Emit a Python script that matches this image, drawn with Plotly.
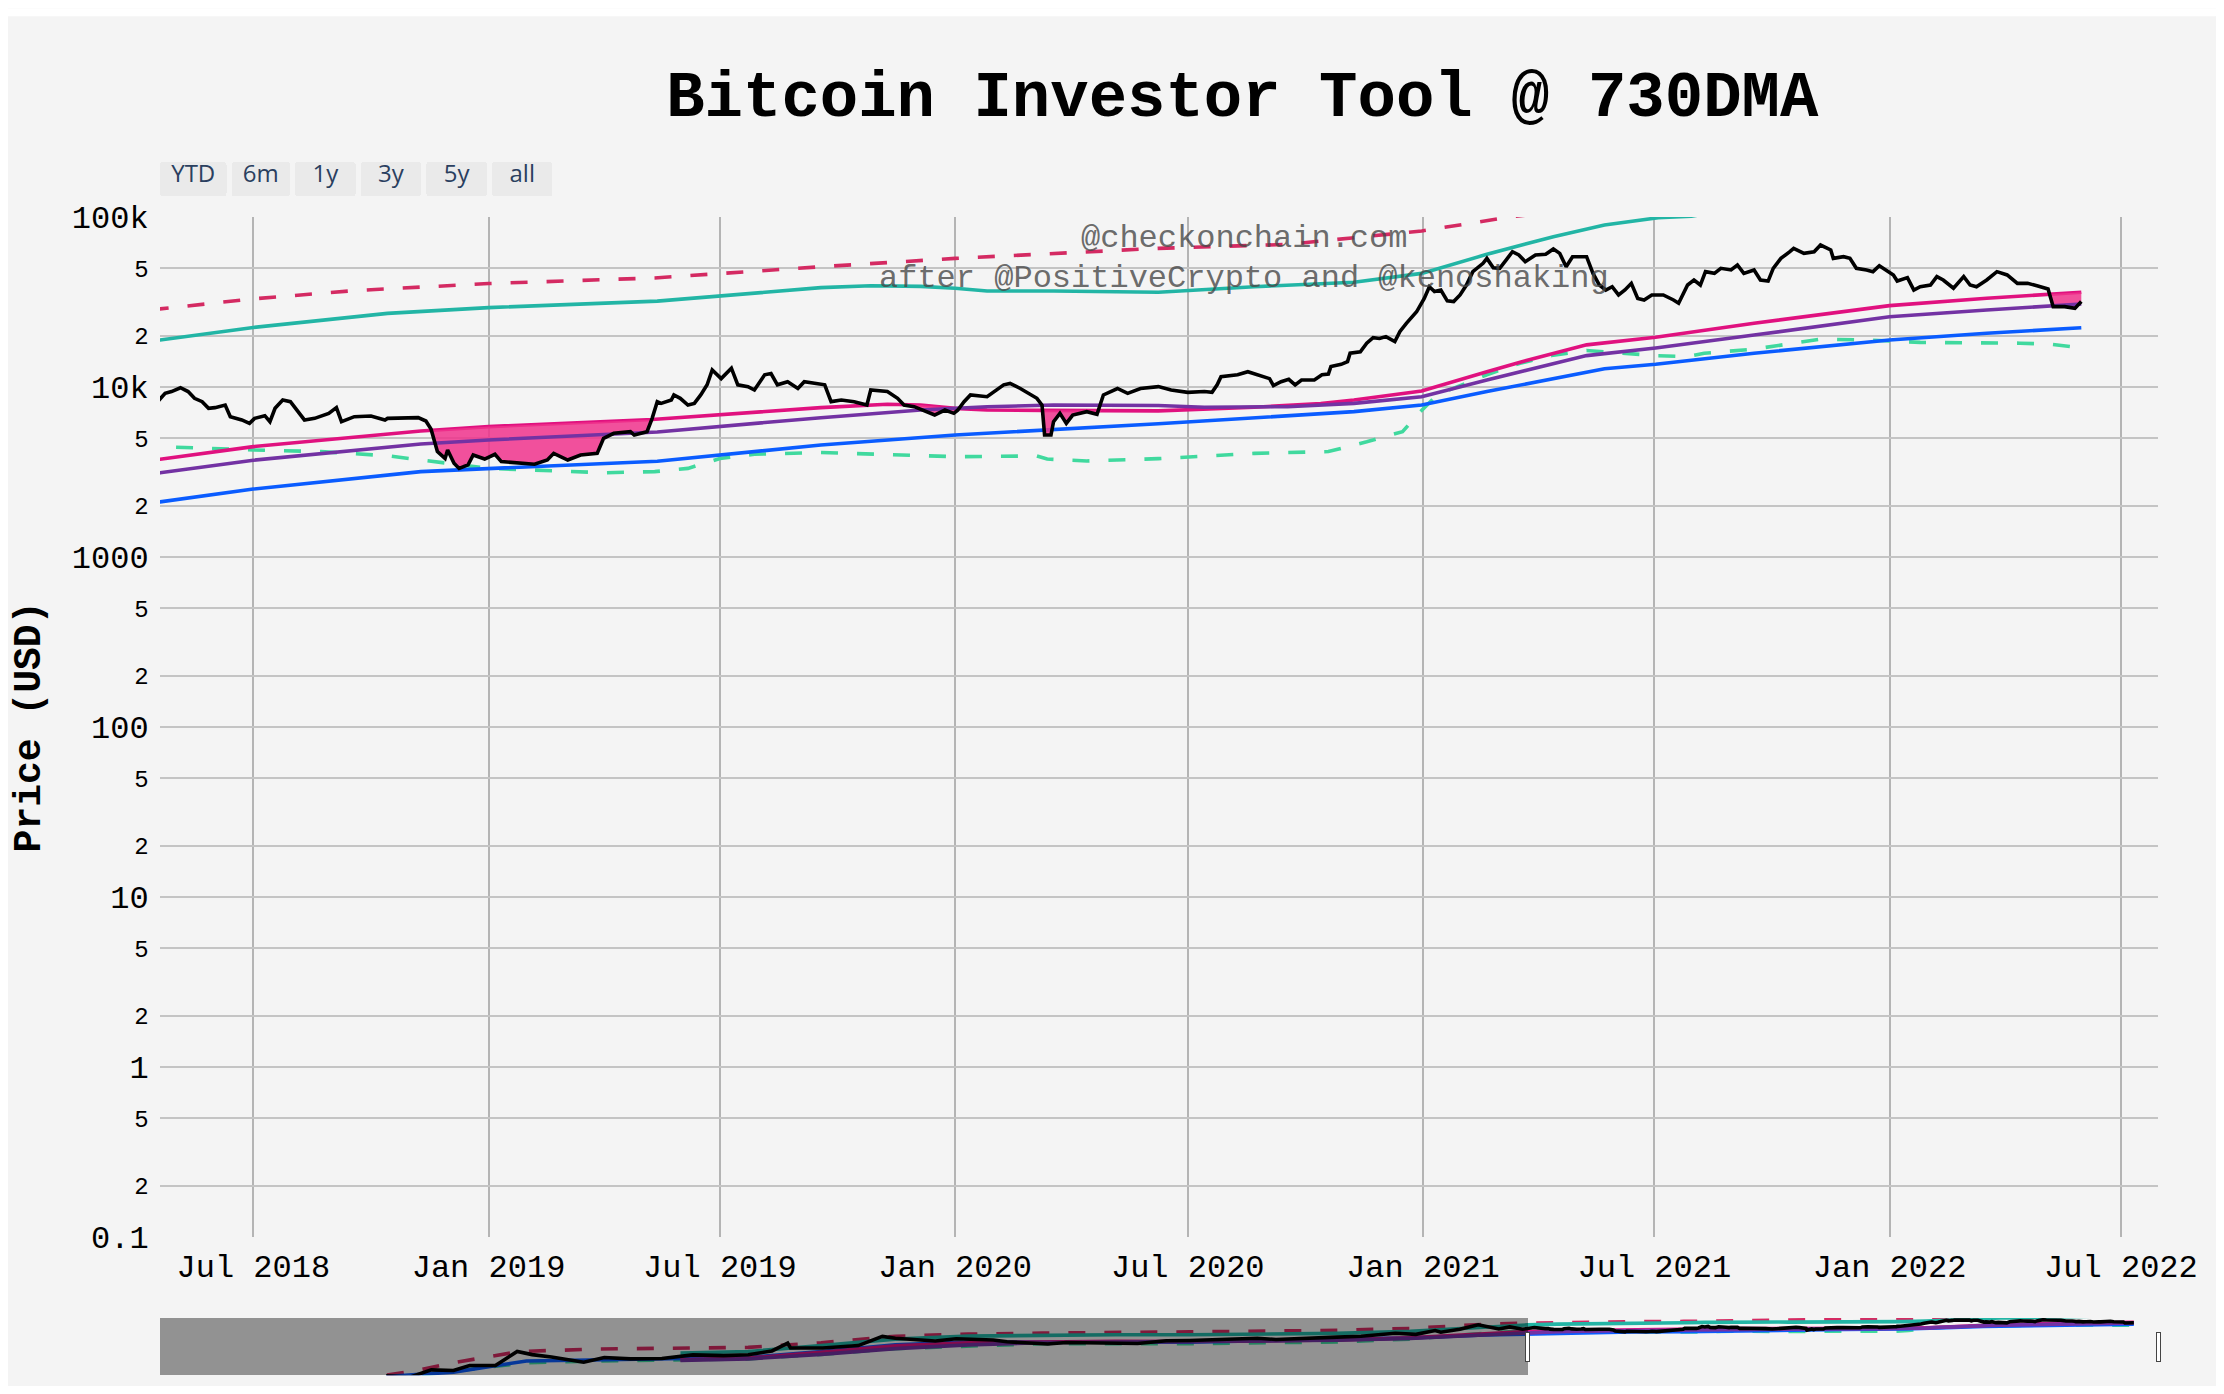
import plotly.graph_objects as go

# ---------------- data ----------------
price_dates = [
    "2009-01-03",
    "2010-07-18", "2010-09-15", "2010-11-07", "2011-01-01", "2011-02-10", "2011-04-15", "2011-06-08",
    "2011-07-15", "2011-09-01", "2011-11-20", "2012-01-10", "2012-03-15", "2012-06-01", "2012-08-17",
    "2012-11-01", "2013-01-01", "2013-03-01", "2013-04-09", "2013-04-16", "2013-07-05", "2013-10-01",
    "2013-11-30", "2014-01-01", "2014-02-25", "2014-04-10", "2014-06-01", "2014-09-01", "2014-10-05",
    "2015-01-14", "2015-03-01", "2015-07-01", "2015-08-25", "2015-11-04", "2016-01-01", "2016-06-17",
    "2016-08-02", "2016-12-31", "2017-03-01", "2017-05-25", "2017-07-15", "2017-09-01", "2017-09-15",
    "2017-11-01", "2017-12-17", "2018-02-06", "2018-03-05", "2018-04-06",
    "2018-04-19", "2018-04-23", "2018-04-28", "2018-05-05", "2018-05-11", "2018-05-16", "2018-05-22",
    "2018-05-27", "2018-06-01", "2018-06-09", "2018-06-13", "2018-06-22", "2018-06-28", "2018-07-02",
    "2018-07-10", "2018-07-14", "2018-07-18", "2018-07-24", "2018-07-30", "2018-08-05", "2018-08-10",
    "2018-08-18", "2018-08-29", "2018-09-04", "2018-09-08", "2018-09-18", "2018-10-01", "2018-10-12",
    "2018-10-14", "2018-11-07", "2018-11-13", "2018-11-17", "2018-11-22", "2018-11-28", "2018-11-30",
    "2018-12-05", "2018-12-09", "2018-12-16", "2018-12-20", "2018-12-29", "2019-01-06", "2019-01-11",
    "2019-01-27", "2019-02-06", "2019-02-16", "2019-02-21", "2019-03-04", "2019-03-14", "2019-03-27",
    "2019-04-01", "2019-04-09", "2019-04-22", "2019-04-25", "2019-05-05", "2019-05-09", "2019-05-13",
    "2019-05-16", "2019-05-24", "2019-05-26", "2019-05-31", "2019-06-06", "2019-06-11", "2019-06-16",
    "2019-06-21", "2019-06-25", "2019-07-02", "2019-07-10", "2019-07-15", "2019-07-23", "2019-07-28",
    "2019-08-05", "2019-08-10", "2019-08-15", "2019-08-23", "2019-08-31", "2019-09-05", "2019-09-21",
    "2019-09-26", "2019-10-04", "2019-10-14", "2019-10-24", "2019-10-27", "2019-11-09", "2019-11-17",
    "2019-11-22", "2019-11-30", "2019-12-16", "2019-12-24", "2019-12-31", "2020-01-03", "2020-01-08",
    "2020-01-13", "2020-01-26", "2020-02-08", "2020-02-13", "2020-02-21", "2020-03-05", "2020-03-09",
    "2020-03-11", "2020-03-16", "2020-03-18", "2020-03-23", "2020-03-28", "2020-04-02", "2020-04-13",
    "2020-04-21", "2020-04-26", "2020-05-07", "2020-05-15", "2020-05-25", "2020-06-08", "2020-06-18",
    "2020-07-01", "2020-07-14", "2020-07-20", "2020-07-24", "2020-07-27", "2020-08-09", "2020-08-17",
    "2020-08-27", "2020-09-03", "2020-09-06", "2020-09-12", "2020-09-18", "2020-09-23", "2020-09-28",
    "2020-10-08", "2020-10-14", "2020-10-19", "2020-10-21", "2020-10-29", "2020-11-03", "2020-11-05",
    "2020-11-13", "2020-11-18", "2020-11-23", "2020-11-28", "2020-12-03", "2020-12-10", "2020-12-14",
    "2020-12-19", "2020-12-27", "2021-01-02", "2021-01-06", "2021-01-10", "2021-01-15", "2021-01-20",
    "2021-01-25", "2021-01-30", "2021-02-04", "2021-02-09", "2021-02-17", "2021-02-20", "2021-02-25",
    "2021-03-02", "2021-03-07", "2021-03-12", "2021-03-17", "2021-03-22", "2021-03-30", "2021-04-07",
    "2021-04-13", "2021-04-18", "2021-04-23", "2021-04-28", "2021-05-09", "2021-05-14", "2021-05-19",
    "2021-05-24", "2021-05-29", "2021-06-03", "2021-06-08", "2021-06-13", "2021-06-18", "2021-06-23",
    "2021-06-29", "2021-07-08", "2021-07-16", "2021-07-20", "2021-07-27", "2021-08-01", "2021-08-06",
    "2021-08-10", "2021-08-17", "2021-08-22", "2021-08-30", "2021-09-04", "2021-09-09", "2021-09-17",
    "2021-09-22", "2021-09-28", "2021-10-02", "2021-10-08", "2021-10-15", "2021-10-18", "2021-10-26",
    "2021-11-03", "2021-11-08", "2021-11-16", "2021-11-18", "2021-11-26", "2021-12-01", "2021-12-06",
    "2021-12-14", "2021-12-19", "2021-12-24", "2021-12-29", "2022-01-04", "2022-01-07", "2022-01-15",
    "2022-01-20", "2022-01-25", "2022-02-02", "2022-02-07", "2022-02-12", "2022-02-20", "2022-02-28",
    "2022-03-05", "2022-03-10", "2022-03-18", "2022-03-26", "2022-04-03", "2022-04-11", "2022-04-19",
    "2022-04-27", "2022-05-05", "2022-05-09", "2022-05-18", "2022-05-26", "2022-05-31",
]
price_usd = [
    None,
    0.08, 0.06, 0.35, 0.3, 1.0, 1.0, 30,
    14, 8, 2.2, 7, 5, 5.5, 13,
    11, 13.5, 34, 230, 70, 70, 125,
    1150, 750, 540, 380, 650, 480, 320,
    180, 260, 260, 210, 400, 430, 750,
    550, 960, 1200, 2500, 1900, 4800, 3200,
    6500, 19500, 6900, 11500, 6600,
    8580, 9180, 9400, 9900, 9400, 8580, 8200,
    7490, 7560, 7830, 6690, 6400, 6110, 6540,
    6780, 6250, 7490, 8380, 8200, 7160, 6400,
    6540, 7000, 7560, 6250, 6690, 6750, 6400,
    6540, 6600, 6310, 5660, 4170, 3800, 4260,
    3560, 3320, 3480, 3980, 3770, 4020, 3640,
    3560, 3510, 3720, 4070, 3720, 3980, 4070,
    4990, 5340, 5460, 5220, 5460, 6540, 8200,
    8010, 8380, 8980, 8580, 7830, 8010, 8980,
    10300, 12600, 11200, 12900, 10300, 10050, 9600,
    11800, 12000, 10300, 10750, 9800, 10750, 10300,
    8200, 8380, 8200, 7830, 9600, 9400, 8580,
    7830, 7660, 6840, 7320, 7000, 7300, 8200,
    8980, 8770, 10300, 10500, 9800, 8580, 7830,
    5220, 5220, 6250, 7000, 6110, 6840, 7160,
    6910, 8980, 9800, 9180, 9800, 10050, 9600,
    9300, 9400, 9300, 10300, 11500, 11800, 12300,
    11700, 11200, 10200, 10750, 11100, 10300, 11000,
    11000, 11800, 11900, 13200, 13600, 14100, 15800,
    16100, 18100, 19500, 19300, 19800, 18500, 21200,
    23700, 27700, 33200, 38900, 36400, 37200, 32100,
    31800, 34800, 39800, 47700, 53400, 57100, 50300,
    49900, 55800, 62500, 59800, 54600, 59800, 60300,
    64800, 61100, 51000, 58400, 58400, 46600, 39800,
    37200, 38900, 34800, 37200, 40700, 33200, 32500,
    34800, 34800, 32500, 31100, 39800, 42600, 39800,
    47700, 46600, 49900, 48800, 52200, 46600, 48800,
    42600, 42000, 49900, 57100, 62500, 65400, 61100,
    62500, 68400, 64000, 57100, 58400, 57100, 49900,
    48800, 47700, 51700, 48800, 45600, 42000, 44000,
    37200, 38900, 39800, 44600, 42600, 38100, 44600,
    39800, 38900, 42600, 47700, 45600, 40700, 40700,
    39300, 37700, 29700, 29700, 29000, 31800,
]

# 730 day moving average (magenta)
ma730_dates = [
    "2012-07-17", "2013-01-01", "2013-07-01", "2014-01-01", "2014-07-01", "2015-01-01", "2015-07-01",
    "2016-01-01", "2016-07-01", "2017-01-01", "2017-07-01", "2018-01-01",
    "2018-04-19", "2018-07-01", "2018-11-09", "2018-11-18", "2019-01-01", "2019-05-09", "2019-09-18",
    "2019-11-09", "2019-11-20", "2019-12-05", "2020-01-01", "2020-01-04", "2020-01-26", "2020-03-10",
    "2020-04-25", "2020-06-08", "2020-08-22", "2020-10-13", "2020-11-08", "2020-12-31", "2021-02-20",
    "2021-03-18", "2021-05-09", "2021-07-02", "2021-09-17", "2022-01-01", "2022-03-18", "2022-05-07",
    "2022-05-31",
]
ma730_usd = [
    4.0, 6.0, 25, 120, 250, 330, 350,
    340, 370, 480, 800, 2300,
    3760, 4460, 5510, 5560, 5850, 6440, 7560,
    7910, 7890, 7830, 7490, 7470, 7320, 7290,
    7270, 7240, 7600, 7980, 8380, 9460, 12300,
    14000, 17700, 19600, 23700, 30100, 33300, 35200,
    36100,
]

# 730DMA x5 (teal)
ma730x5_dates = [
    "2012-07-17", "2013-01-01", "2013-07-01", "2014-01-01", "2014-07-01", "2015-01-01", "2015-07-01",
    "2016-01-01", "2016-07-01", "2017-01-01", "2017-07-01", "2018-01-01",
    "2018-04-19", "2018-07-01", "2018-10-14", "2019-01-01", "2019-05-13", "2019-07-01", "2019-09-18",
    "2019-10-27", "2019-12-05", "2020-01-01", "2020-01-26", "2020-03-18", "2020-06-08", "2020-08-22",
    "2020-11-08", "2020-12-31", "2021-02-20", "2021-04-13", "2021-05-23", "2021-07-04", "2021-07-30",
    "2021-09-17", "2022-01-01", "2022-03-18", "2022-05-31",
]
ma730x5_usd = [
    20, 30, 125, 600, 1250, 1650, 1750,
    1700, 1850, 2400, 4000, 11500,
    18900, 22400, 27100, 29300, 32000, 34300, 38400,
    39400, 39100, 38100, 36700, 36700, 36100, 38900,
    41300, 46600, 60300, 76600, 89700, 99000, 101000,
    118000, 150000, 166000, 180000,
]

# top band (red dashed)
top_dates = [
    "2010-07-20", "2010-10-01", "2011-01-01", "2011-06-15", "2012-01-01", "2012-07-01", "2013-01-01",
    "2013-07-01", "2014-01-01", "2014-07-01", "2015-01-01", "2016-01-01", "2017-01-01", "2017-07-01",
    "2018-01-01",
    "2018-04-19", "2018-07-01", "2018-09-18", "2019-01-01", "2019-05-11", "2019-09-18", "2020-01-01",
    "2020-06-08", "2020-09-17", "2020-12-31", "2021-03-12", "2021-07-01", "2022-01-01", "2022-05-31",
]
top_usd = [
    0.1, 0.3, 2, 30, 55, 60, 80,
    250, 1200, 2000, 2600, 3500, 5000, 8000,
    22000,
    28800, 33000, 36900, 40600, 43800, 51000, 57100,
    65400, 69000, 82800, 100500, 125000, 160000, 175000,
]

# purple line
mid_dates = [
    "2012-07-17", "2013-01-01", "2013-07-01", "2014-01-01", "2014-07-01", "2015-01-01", "2015-07-01",
    "2016-01-01", "2016-07-01", "2017-01-01", "2017-07-01", "2018-01-01",
    "2018-04-19", "2018-07-01", "2018-11-09", "2019-01-01", "2019-05-13", "2019-09-18", "2019-12-05",
    "2020-01-26", "2020-03-18", "2020-06-08", "2020-07-14", "2020-09-17", "2020-11-08", "2020-12-31",
    "2021-02-20", "2021-05-09", "2021-07-02", "2021-09-17", "2022-01-01", "2022-03-18", "2022-05-31",
]
mid_usd = [
    3.5, 5, 15, 60, 150, 250, 300,
    320, 350, 450, 700, 1800,
    3130, 3710, 4620, 4880, 5440, 6600, 7320,
    7660, 7830, 7780, 7600, 7660, 8010, 8770,
    11000, 15300, 16950, 20200, 25900, 28400, 30800,
]

# blue line
low_dates = [
    "2010-07-18", "2011-01-01", "2011-07-01", "2012-01-01", "2012-07-01", "2013-01-01", "2013-07-01",
    "2014-01-01", "2014-07-01", "2015-01-01", "2015-07-01", "2016-01-01", "2016-07-01", "2017-01-01",
    "2017-07-01", "2018-01-01",
    "2018-04-19", "2018-07-01", "2018-11-09", "2019-01-01", "2019-05-13", "2019-09-18", "2020-01-01",
    "2020-06-08", "2020-11-08", "2020-12-31", "2021-02-20", "2021-05-23", "2021-07-02", "2021-09-17",
    "2022-01-01", "2022-03-18", "2022-05-31",
]
low_usd = [
    0.07, 0.2, 3, 4, 5, 7, 30,
    150, 300, 300, 270, 290, 400, 550,
    800, 1600,
    2110, 2510, 3180, 3320, 3660, 4560, 5220,
    6080, 7160, 7830, 9400, 12800, 13600, 15800,
    18900, 20700, 22300,
]

# green dashed line
floor_dates = [
    "2010-10-15", "2011-07-01", "2012-01-01", "2013-01-01", "2013-07-01", "2014-01-01", "2015-01-01",
    "2016-01-01", "2017-01-01", "2017-07-01", "2018-01-01",
    "2018-04-19", "2018-07-01", "2018-08-23", "2018-10-14", "2018-11-22", "2018-12-05", "2019-01-01",
    "2019-04-01", "2019-05-11", "2019-06-06", "2019-07-01", "2019-07-28", "2019-09-18", "2020-01-01",
    "2020-03-05", "2020-03-13", "2020-04-13", "2020-06-08", "2020-08-22", "2020-10-19", "2020-11-18",
    "2020-12-16", "2020-12-30", "2021-01-12", "2021-02-20", "2021-03-18", "2021-04-13", "2021-05-09",
    "2021-07-02", "2021-07-27", "2021-08-09", "2021-09-17", "2021-11-08", "2021-12-16", "2022-01-25",
    "2022-04-13", "2022-05-05", "2022-05-31",
]
floor_usd = [
    0.1, 2, 3, 5, 15, 60, 200,
    200, 300, 600, 2500,
    4460, 4260, 4170, 3940, 3640, 3510, 3320,
    3130, 3180, 3320, 3800, 4020, 4120, 3890,
    3930, 3770, 3670, 3790, 4070, 4170, 4760,
    5460, 7160, 8980, 11800, 13800, 15400, 16400,
    15300, 15100, 15800, 16700, 19100, 18900, 18300,
    18100, 17900, 17000,
]

# periods where the price sits under the 730DMA (shaded)
below_ma_periods = [
    ("2018-11-18", "2019-05-09"),
    ("2019-11-20", "2020-01-04"),
    ("2020-03-10", "2020-04-25"),
    ("2022-05-07", "2022-05-31"),
]

x_view = ["2018-04-19", "2022-07-30"]
title_text = "Bitcoin Investor Tool @ 730DMA"
credit_1 = "@checkonchain.com"
credit_2 = "after @PositiveCrypto and @kenoshaking"

# ---------------- styling ----------------
MONO = "Courier New, Liberation Mono, monospace"
BG = "#f4f4f4"
C_TOP = "#d42a62"
C_X5 = "#22b5a5"
C_FLOOR = "#40d99e"
C_LOW = "#0a5cff"
C_MA = "#e0117f"
C_MID = "#7332a3"
C_FILL = "rgba(240,50,140,0.85)"
DASH = "17px,19px"

fig = go.Figure()


def add_line(x, y, color, dash=None, width=3.6):
    fig.add_trace(go.Scatter(
        x=x, y=y, mode="lines",
        line=dict(color=color, width=width, dash=dash),
        showlegend=False, hoverinfo="skip", connectgaps=False,
    ))


add_line(top_dates, top_usd, C_TOP, DASH)
add_line(ma730x5_dates, ma730x5_usd, C_X5)
add_line(floor_dates, floor_usd, C_FLOOR, DASH)
add_line(low_dates, low_usd, C_LOW)
add_line(ma730_dates, ma730_usd, C_MA)

# shaded region between price and 730DMA where price is below
for a, b in below_ma_periods:
    px = [d for d in price_dates if a <= d <= b]
    py = [v for d, v in zip(price_dates, price_usd) if a <= d <= b]
    mx = [d for d in ma730_dates if a <= d <= b]
    my = [v for d, v in zip(ma730_dates, ma730_usd) if a <= d <= b]
    xs = [mx[0]] + px + mx[::-1]
    ys = [my[0]] + py + my[::-1]
    fig.add_trace(go.Scatter(
        x=xs, y=ys, mode="lines", fill="toself", fillcolor=C_FILL,
        line=dict(width=0, color=C_FILL), showlegend=False, hoverinfo="skip",
    ))

add_line(mid_dates, mid_usd, C_MID)
add_line(price_dates, price_usd, "black", None, 3.6)

# empty trace that carries the visible date labels (second x axis over the first)
fig.add_trace(go.Scatter(x=[], y=[], xaxis="x2", yaxis="y", mode="lines",
                         showlegend=False, hoverinfo="skip"))

date_axis_common = dict(
    type="date",
    range=x_view,
    dtick="M6",
    tick0="2018-01-01",
    zeroline=False,
    showline=False,
    automargin=False,
    ticks="outside",
    tickcolor="rgba(0,0,0,0)",
)

pad = "\u00a0"
fig.update_layout(
    paper_bgcolor=BG,
    plot_bgcolor=BG,
    margin=dict(l=152, r=58, t=209, b=10),
    showlegend=False,
    font=dict(family=MONO, color="black", size=24),
    title=dict(
        text="<b>" + title_text + "</b>",
        x=0.559, xanchor="center", y=0.938, yanchor="middle",
        font=dict(family=MONO, size=64, color="black"),
    ),
    xaxis=dict(
        **date_axis_common,
        showgrid=True,
        gridcolor="#b4b4b4",
        gridwidth=2,
        ticklen=3,
        ticklabelstandoff=14,
        tickformat=pad,  # blank labels: they only reserve room above the range slider
        tickfont=dict(family=MONO, size=32, color="rgba(0,0,0,0)"),
        rangeslider=dict(
            visible=True, thickness=0.0495, bgcolor=BG, borderwidth=0,
            autorange=False, range=[price_dates[0], price_dates[-1]],
        ),
        rangeselector=dict(
            x=0, xanchor="left", y=1.0176, yanchor="bottom",
            bgcolor="#eaeaea",
            font=dict(family="Open Sans, sans-serif", size=24, color="#2a3f5f"),
            buttons=[
                dict(count=1, label=pad + "YTD" + pad, step="year", stepmode="todate"),
                dict(count=6, label=pad + "6m" + pad, step="month", stepmode="backward"),
                dict(count=1, label=pad * 2 + "1y" + pad * 2, step="year", stepmode="backward"),
                dict(count=3, label=pad * 2 + "3y" + pad * 2, step="year", stepmode="backward"),
                dict(count=5, label=pad * 2 + "5y" + pad * 2, step="year", stepmode="backward"),
                dict(label=pad * 2 + "all" + pad * 2, step="all"),
            ],
        ),
    ),
    xaxis2=dict(
        **date_axis_common,
        tickformat="%b %Y",
        overlaying="x",
        anchor="y",
        side="bottom",
        showgrid=False,
        ticklen=1,
        tickfont=dict(family=MONO, size=32, color="black"),
    ),
    yaxis=dict(
        type="log",
        range=[-1, 5],
        dtick="D2",
        showgrid=True,
        gridcolor="#c4c4c4",
        gridwidth=2,
        zeroline=False,
        showline=False,
        automargin=False,
        ticks="outside",
        ticklen=4,
        tickcolor="rgba(0,0,0,0)",
        tickfont=dict(family=MONO, size=32, color="black"),
        title=dict(text="<b>Price (USD)</b>", font=dict(family=MONO, size=38, color="black"), standoff=60),
    ),
    annotations=[
        dict(text=credit_1, x=0.5425, y=0.9794, xref="paper", yref="paper", showarrow=False,
             xanchor="center", yanchor="middle",
             font=dict(family=MONO, size=32, color="rgba(70,70,70,0.8)")),
        dict(text=credit_2, x=0.5425, y=0.9393, xref="paper", yref="paper", showarrow=False,
             xanchor="center", yanchor="middle",
             font=dict(family=MONO, size=32, color="rgba(70,70,70,0.8)")),
    ],
    shapes=[
        dict(type="rect", xref="paper", yref="paper", x0=-0.0761, x1=1.029, y0=1.1969, y1=1.2047,
             fillcolor="white", line=dict(width=0), layer="below"),
    ],
)

fig.write_html("out.html")
